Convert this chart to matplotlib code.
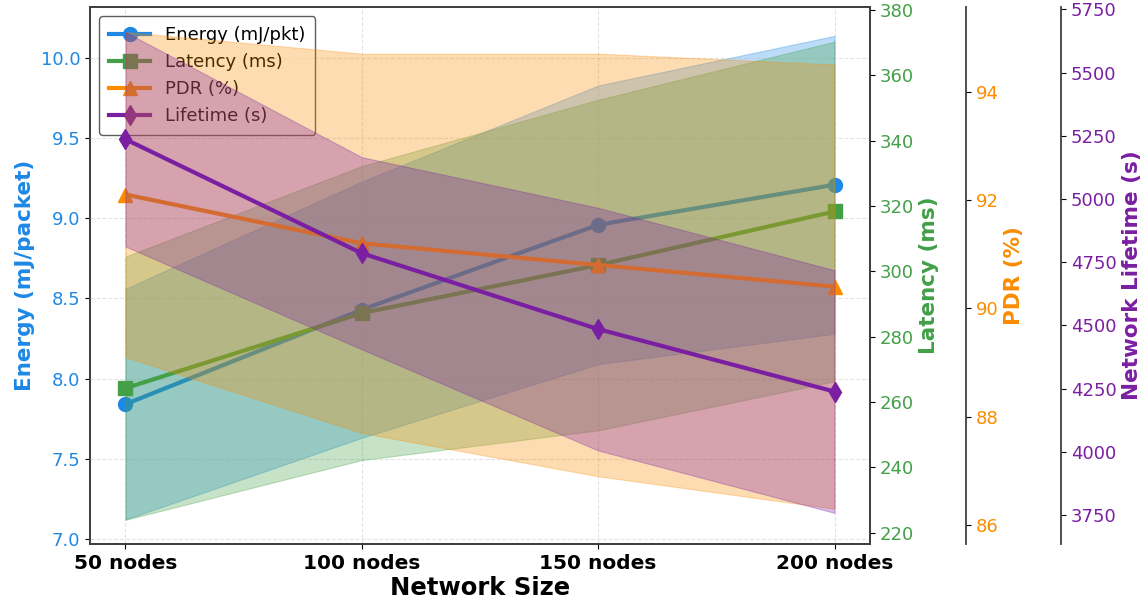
import matplotlib
matplotlib.use("Agg")
import matplotlib.pyplot as plt
import numpy as np

# Network sizes on the x axis
sizes = ["50 nodes", "100 nodes", "150 nodes", "200 nodes"]

# Mean and std per metric
energy_mean = [7.84, 8.43, 8.96, 9.21]
energy_std = [0.72, 0.80, 0.87, 0.93]
latency_mean = [264.2, 287.2, 301.9, 318.3]
latency_std = [40.3, 45.0, 50.6, 52.0]
pdr_mean = [92.1, 91.2, 90.8, 90.4]
pdr_std = [3.0, 3.5, 3.9, 4.1]
lifetime_mean = [5236, 4785, 4485, 4238]
lifetime_std = [424, 380, 480, 480]

c_energy = "#1E88E5"
c_latency = "#43A047"
c_pdr = "#FB8C00"
c_life = "#7B1FA2"

x = np.arange(len(sizes))

fig = plt.figure(figsize=(11.48, 6.06), dpi=100)
ax1 = fig.add_axes([0.0784, 0.1023, 0.6794, 0.8861])
ax2 = ax1.twinx()
ax3 = ax1.twinx()
ax4 = ax1.twinx()
ax3.spines["right"].set_position(("axes", 1.123))
ax4.spines["right"].set_position(("axes", 1.245))

def draw(ax, mean, std, color, marker, label):
    mean = np.array(mean)
    std = np.array(std)
    ax.fill_between(x, mean - std, mean + std, color=color, alpha=0.3, linewidth=0.8)
    line, = ax.plot(x, mean, color=color, marker=marker, linewidth=3,
                    markersize=10, label=label)
    return line

l1 = draw(ax1, energy_mean, energy_std, c_energy, "o", "Energy (mJ/pkt)")
l2 = draw(ax2, latency_mean, latency_std, c_latency, "s", "Latency (ms)")
l3 = draw(ax3, pdr_mean, pdr_std, c_pdr, "^", "PDR (%)")
l4 = draw(ax4, lifetime_mean, lifetime_std, c_life, "d", "Lifetime (s)")

ax1.set_xlim(-0.15, 3.15)
ax1.set_ylim(6.967, 10.32)
ax2.set_ylim(216.5, 380.9)
ax3.set_ylim(85.65, 95.56)
ax4.set_ylim(3635, 5759)

ax1.set_xticks(x)
ax1.set_xticklabels(sizes, fontsize=14.5, fontweight="bold")
ax1.set_xlabel("Network Size", fontsize=17.5, fontweight="bold", labelpad=2)

ax1.set_ylabel("Energy (mJ/packet)", color=c_energy, fontsize=15.5, fontweight="bold")
ax2.set_ylabel("Latency (ms)", color=c_latency, fontsize=15.5, fontweight="bold")
ax3.set_ylabel("PDR (%)", color=c_pdr, fontsize=15.5, fontweight="bold")
ax4.set_ylabel("Network Lifetime (s)", color=c_life, fontsize=15.5, fontweight="bold")

ax1.tick_params(axis="y", labelcolor=c_energy, labelsize=13)
ax2.tick_params(axis="y", labelcolor=c_latency, labelsize=13)
ax3.tick_params(axis="y", labelcolor=c_pdr, labelsize=13)
ax4.tick_params(axis="y", labelcolor=c_life, labelsize=13)

for ax in (ax1, ax2, ax3, ax4):
    for sp in ax.spines.values():
        sp.set_color("0.25")
        sp.set_linewidth(1.3)

ax1.grid(True, linestyle="--", alpha=0.35)

ax1.legend([l1, l2, l3, l4], [l.get_label() for l in (l1, l2, l3, l4)],
           loc="upper left", fontsize=13, edgecolor="0.2", handlelength=2.3,
           borderpad=0.55)

fig.savefig("out.png", dpi=100)
